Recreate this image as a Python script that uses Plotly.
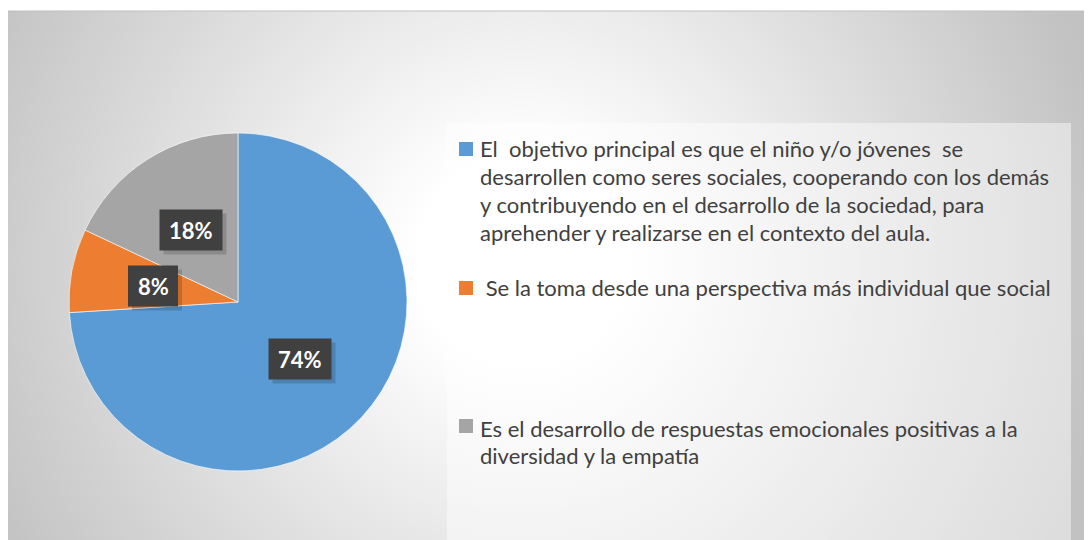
import base64
import plotly.graph_objects as go

# ─────────────────────────────────────────
# DATA
# ─────────────────────────────────────────

labels = [
    "El  objetivo principal es que el niño y/o jóvenes  se<br>"
    "desarrollen como seres sociales, cooperando con los demás<br>"
    "y contribuyendo en el desarrollo de la sociedad, para<br>"
    "aprehender y realizarse en el contexto del aula.",
    " Se la toma desde una perspectiva más individual que social",
    "Es el desarrollo de respuestas emocionales positivas a la<br>"
    "diversidad y la empatía",
]
values = [74, 8, 18]
colors = ["#5B9BD5", "#ED7D31", "#A5A5A5"]

W, H = 1092, 540
OFF = 8   # page body margin: figure starts 8px in from the window corner


def px(x, y):
    """window pixel -> paper coords"""
    return (x - OFF) / W, 1 - (y - OFF) / H


def html_spaces(s):
    # keep double / leading spaces visible
    s = s.replace("  ", " &nbsp;")
    if s.startswith(" "):
        s = "&nbsp;" + s[1:]
    return s


# ─────────────────────────────────────────
# BACKGROUND — radial gradient as svg image
# ─────────────────────────────────────────

bg_w, bg_h = W, H - 3
svg = f"""<svg xmlns='http://www.w3.org/2000/svg' width='{bg_w}' height='{bg_h}'>
<defs><radialGradient id='g' gradientUnits='userSpaceOnUse' cx='514' cy='250' r='700'>
<stop offset='0.15' stop-color='#ffffff'/>
<stop offset='0.85' stop-color='#c2c2c2'/>
</radialGradient></defs>
<rect width='{bg_w}' height='{bg_h}' fill='url(#g)'/>
</svg>"""
bg_src = "data:image/svg+xml;base64," + base64.b64encode(svg.encode()).decode()

dx0, dy1 = px(69, 133)
dx1, dy0 = px(407, 471)

fig = go.Figure(go.Pie(
    labels       = labels,
    values       = values,
    sort         = False,
    direction    = "clockwise",
    rotation     = 0,
    marker       = dict(colors=colors, line=dict(color="rgba(255,255,255,0.6)", width=1)),
    textinfo     = "none",
    hoverinfo    = "label+percent",
    showlegend   = False,
    domain       = dict(x=[dx0, dx1], y=[dy0, dy1]),
))

fx0, fy1 = px(7, 11)
lx0, ly1 = px(447, 123)
lx1, _ = px(1071, 540)
shapes = [
    # chart frame
    dict(type="rect", xref="paper", yref="paper",
         x0=fx0, y0=-0.02, x1=1.02, y1=fy1,
         line=dict(color="#bfbfbf", width=1), fillcolor="rgba(0,0,0,0)", layer="below"),
    # legend box
    dict(type="rect", xref="paper", yref="paper",
         x0=lx0, y0=-0.02, x1=lx1, y1=ly1,
         line=dict(width=0), fillcolor="rgba(255,255,255,0.45)", layer="below"),
]

annotations = []

# ─────────────────────────────────────────
# LEGEND — drawn by hand, one line per annotation
# ─────────────────────────────────────────

legend_top = [149, 287, 428]   # y of first text line for each item
square_top = [142, 281, 419]
line_gap = 27.7

for i, lab in enumerate(labels):
    x0, y1 = px(459, square_top[i])
    x1, y0 = px(473, square_top[i] + 14)
    shapes.append(dict(type="rect", xref="paper", yref="paper",
                       x0=x0, y0=y0, x1=x1, y1=y1,
                       fillcolor=colors[i], line=dict(width=0)))
    for j, line in enumerate(lab.split("<br>")):
        tx, ty = px(478, legend_top[i] + j * line_gap)
        annotations.append(dict(
            x=tx, y=ty, xref="paper", yref="paper",
            xanchor="left", yanchor="middle", showarrow=False,
            text=html_spaces(line),
            font=dict(family="Lato", size=22, color="#404040"),
        ))

# ─────────────────────────────────────────
# DATA LABELS — dark boxes with white percent
# ─────────────────────────────────────────

label_pos = [(300, 359), (153, 286), (191, 230)]
box_h = 41

for v, (cx, cy) in zip(values, label_pos):
    txt = f"{v}%"
    bw = 24 + 13 * len(txt)
    # soft shadow, then the box
    for off, fill in [(4, "rgba(0,0,0,0.16)"), (0, "#404040")]:
        bx0, by1 = px(cx - bw / 2 + off, cy - box_h / 2 + off)
        bx1, by0 = px(cx + bw / 2 + off, cy + box_h / 2 + off)
        shapes.append(dict(type="rect", xref="paper", yref="paper",
                           x0=bx0, y0=by0, x1=bx1, y1=by1,
                           fillcolor=fill, line=dict(width=0)))
    ax, ay = px(cx, cy)
    annotations.append(dict(
        x=ax, y=ay, xref="paper", yref="paper", showarrow=False,
        xanchor="center", yanchor="middle",
        text=txt, font=dict(family="Lato", size=22, color="#ffffff", weight="bold"),
    ))

fig.update_layout(
    width         = W,
    height        = H,
    margin        = dict(t=0, b=0, l=0, r=0),
    paper_bgcolor = "#ffffff",
    plot_bgcolor  = "rgba(0,0,0,0)",
    shapes        = shapes,
    annotations   = annotations,
    images        = [dict(
        source  = bg_src,
        xref    = "paper", yref="paper",
        x       = 0, y=1 - 3 / H,
        sizex   = bg_w / W, sizey=bg_h / H,
        xanchor = "left", yanchor="top",
        sizing  = "stretch", layer="below",
    )],
)

fig.write_html("out.html")
